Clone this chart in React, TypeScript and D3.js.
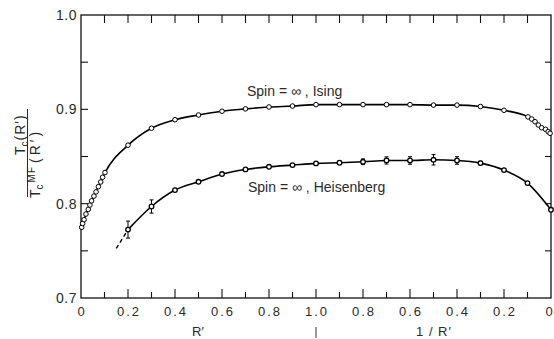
import React from "react";
import * as d3 from "d3";

// Ising, R' side (R' values) and values
const isingR = [0.003, 0.007, 0.013, 0.021, 0.031, 0.038, 0.045, 0.055, 0.064, 0.074, 0.084, 0.092, 0.102, 0.2, 0.3, 0.4, 0.5, 0.6, 0.7, 0.8, 0.9, 1.0];
const isingRVals = [0.775, 0.779, 0.783, 0.789, 0.794, 0.7985, 0.803, 0.808, 0.8125, 0.818, 0.823, 0.828, 0.833, 0.862, 0.88, 0.889, 0.894, 0.898, 0.9005, 0.9025, 0.9035, 0.905];
// Ising, 1/R' side
const isingInv = [0.9, 0.8, 0.7, 0.6, 0.5, 0.4, 0.3, 0.2, 0.098, 0.082, 0.068, 0.054, 0.04, 0.023, 0.012, 0.004];
const isingInvVals = [0.905, 0.905, 0.905, 0.905, 0.9045, 0.9045, 0.903, 0.899, 0.892, 0.8897, 0.8869, 0.8834, 0.8805, 0.8788, 0.8763, 0.8746];

// Heisenberg, R' side
const heisR = [0.2, 0.3, 0.4, 0.5, 0.6, 0.7, 0.8, 0.9, 1.0];
const heisRVals = [0.7725, 0.797, 0.8144, 0.8232, 0.8314, 0.8363, 0.8391, 0.8409, 0.8427];
const heisRErr = [0.009, 0.007, 0.0015, 0, 0, 0, 0, 0, 0];
// Heisenberg, 1/R' side
const heisInv = [0.9, 0.8, 0.7, 0.6, 0.5, 0.4, 0.3, 0.2, 0.1, 0];
const heisInvVals = [0.8434, 0.8444, 0.8458, 0.8458, 0.8465, 0.8458, 0.843, 0.8356, 0.8218, 0.7935];
const heisInvErr = [0, 0.003, 0.0038, 0.004, 0.0055, 0.004, 0.002, 0, 0, 0];
// dashed extrapolation of Heisenberg curve
const heisDashR = [0.15, 0.175, 0.2];
const heisDashVals = [0.7525, 0.7625, 0.7725];

const yTicks = [0.7, 0.8, 0.9, 1.0];
const yMinor = [0.75, 0.85, 0.95];
const xTickLabels = ["0", "0.2", "0.4", "0.6", "0.8", "1.0", "0.8", "0.6", "0.4", "0.2", "0"];

type Pt = { t: number; v: number; e: number };

function fromR(rs: number[], vs: number[], es?: number[]): Pt[] {
  return rs.map((r, i) => ({ t: r, v: vs[i], e: es ? es[i] : 0 }));
}
function fromInv(is: number[], vs: number[], es?: number[]): Pt[] {
  return is.map((r, i) => ({ t: 2 - r, v: vs[i], e: es ? es[i] : 0 }));
}

export default function App() {
  const W = 554, H = 339;
  const x0 = 81, x1 = 551, yTop = 15, yBot = 298;
  const x = d3.scaleLinear().domain([0, 2]).range([x0, x1]);
  const y = d3.scaleLinear().domain([0.7, 1.0]).range([yBot, yTop]);

  const ising = [...fromR(isingR, isingRVals), ...fromInv(isingInv, isingInvVals)].sort((a, b) => a.t - b.t);
  const heis = [...fromR(heisR, heisRVals, heisRErr), ...fromInv(heisInv, heisInvVals, heisInvErr)].sort((a, b) => a.t - b.t);
  const dash = fromR(heisDashR, heisDashVals);

  const line = d3.line<Pt>().x(d => x(d.t)).y(d => y(d.v)).curve(d3.curveMonotoneX);

  const tickT = d3.range(0, 21).map(i => i / 10);
  const font = "'Liberation Sans', Arial, Helvetica, sans-serif";
  const txt = "#2a2a2a";

  return (
    <svg width={W} height={H} style={{ position: "absolute", left: 0, top: 0, background: "#fff" }} fontFamily={font}>
      {/* frame */}
      <rect x={x0} y={yTop} width={x1 - x0} height={yBot - yTop} fill="none" stroke="#111" strokeWidth={1.3} />
      {/* top ticks */}
      {tickT.slice(1, -1).map((t, i) => (
        <line key={"tt" + i} x1={x(t)} x2={x(t)} y1={yTop} y2={yTop + 8} stroke="#111" strokeWidth={1.1} />
      ))}
      {/* bottom ticks */}
      {tickT.slice(1, -1).map((t, i) => {
        const major = Math.round(t * 10) % 2 === 0;
        return <line key={"bt" + i} x1={x(t)} x2={x(t)} y1={yBot} y2={yBot - (major ? 9 : 6)} stroke="#111" strokeWidth={1.1} />;
      })}
      {/* left and right ticks */}
      {[...yTicks.slice(1, -1), ...yMinor].map((v, i) => (
        <g key={"yt" + i}>
          <line x1={x0} x2={x0 + 7} y1={y(v)} y2={y(v)} stroke="#111" strokeWidth={1.1} />
          <line x1={x1} x2={x1 - 6} y1={y(v)} y2={y(v)} stroke="#111" strokeWidth={1.1} />
        </g>
      ))}
      {/* y tick labels */}
      {yTicks.map((v, i) => (
        <text key={"yl" + i} x={x0 - 4} y={y(v) + 5} textAnchor="end" fontSize={14} fill={txt} letterSpacing={0.5}>
          {v.toFixed(1)}
        </text>
      ))}
      {/* x tick labels */}
      {xTickLabels.map((s, i) => {
        const last = i === xTickLabels.length - 1;
        return (
          <text key={"xl" + i} x={last ? 549 : x(i * 0.2) + 1} y={316} textAnchor="middle" fontSize={13} fill={txt} letterSpacing={last ? 0 : 2}>
            {s}
          </text>
        );
      })}
      <text x={198} y={336} textAnchor="middle" fontSize={13} fill={txt}>R′</text>
      <text x={434} y={336} textAnchor="middle" fontSize={13} fill={txt} letterSpacing={1}>1 / R′</text>
      <line x1={x(1)} x2={x(1)} y1={327} y2={338} stroke="#333" strokeWidth={1} />

      {/* y axis label as fraction */}
      <g transform="translate(30,153) rotate(-90)" fill={txt}>
        <text x={-2} y={-5} fontSize={14}>
          T<tspan fontSize={10} dy={3}>c</tspan><tspan dy={-3} dx={1} letterSpacing={1}>(R′)</tspan>
        </text>
        <line x1={-44} x2={44} y1={-2.5} y2={-2.5} stroke={txt} strokeWidth={1} />
        <text x={-45} y={10} fontSize={14}>
          T<tspan fontSize={10} dy={3}>c</tspan><tspan fontSize={10} dy={-8} dx={2} letterSpacing={1}>MF</tspan><tspan dy={5} dx={3} letterSpacing={3}>(R′)</tspan>
        </text>
      </g>

      {/* curves */}
      <path d={line(ising) || ""} fill="none" stroke="#000" strokeWidth={1.6} />
      <path d={line(heis) || ""} fill="none" stroke="#000" strokeWidth={1.6} />
      <path d={line(dash) || ""} fill="none" stroke="#000" strokeWidth={1.4} strokeDasharray="4,3" />

      {/* error bars */}
      {heis.filter(d => d.e > 0).map((d, i) => (
        <g key={"eb" + i} stroke="#000" strokeWidth={1}>
          <line x1={x(d.t)} x2={x(d.t)} y1={y(d.v - d.e)} y2={y(d.v + d.e)} />
          <line x1={x(d.t) - 2} x2={x(d.t) + 2} y1={y(d.v - d.e)} y2={y(d.v - d.e)} />
          <line x1={x(d.t) - 2} x2={x(d.t) + 2} y1={y(d.v + d.e)} y2={y(d.v + d.e)} />
        </g>
      ))}

      {/* markers */}
      {ising.map((d, i) => (
        <circle key={"im" + i} cx={x(d.t)} cy={y(d.v)} r={2.3} fill="#fff" stroke="#000" strokeWidth={1} />
      ))}
      {heis.map((d, i) => (
        <circle key={"hm" + i} cx={x(d.t)} cy={y(d.v)} r={2.3} fill="#fff" stroke="#000" strokeWidth={1.3} />
      ))}

      {/* series labels */}
      <text x={247} y={96} fontSize={14} fill={txt}>Spin = ∞ , Ising</text>
      <text x={248} y={192} fontSize={14} fill={txt}>Spin = ∞ , Heisenberg</text>
    </svg>
  );
}
